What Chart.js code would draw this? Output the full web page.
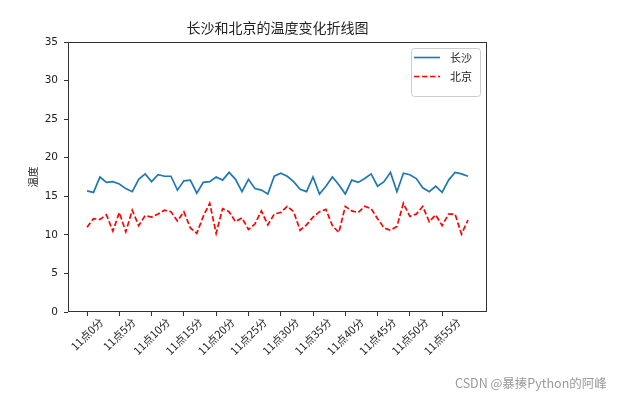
<!DOCTYPE html>
<html>
<head>
<meta charset="utf-8">
<script src="https://cdn.jsdelivr.net/npm/chart.js@4/dist/chart.umd.min.js"></script>
<style>
  body { margin: 0; background: #fff; }
  #wrap { position: relative; width: 621px; height: 399px; }
  #mark { position: absolute; left: 455px; top: 373px; font: 12.5px "Noto Sans CJK SC", sans-serif; color: #9a9a9a; white-space: nowrap; }
</style>
</head>
<body>
<div id="wrap">
  <canvas id="chart" width="621" height="399"></canvas>
  <div id="mark">CSDN @暴揍Python的阿峰</div>
</div>
<script>
var chartTitle = '长沙和北京的温度变化折线图';
var yTitle = '温度';
var seriesNames = ['长沙', '北京'];

var tickPositions = [0, 5, 10, 15, 20, 25, 30, 35, 40, 45, 50, 55];
var tickLabels = ['11点0分', '11点5分', '11点10分', '11点15分', '11点20分', '11点25分',
                  '11点30分', '11点35分', '11点40分', '11点45分', '11点50分', '11点55分'];

var changsha = [15.7, 15.5, 17.5, 16.8, 16.9, 16.6, 16.0, 15.6, 17.2, 17.9,
                16.9, 17.8, 17.6, 17.6, 15.8, 17.0, 17.1, 15.4, 16.8, 16.9,
                17.5, 17.1, 18.1, 17.2, 15.6, 17.2, 16.0, 15.8, 15.3, 17.6,
                18.0, 17.6, 16.9, 15.9, 15.6, 17.5, 15.3, 16.3, 17.5, 16.5,
                15.3, 17.1, 16.8, 17.3, 17.9, 16.3, 16.9, 18.1, 15.6, 18.0,
                17.8, 17.3, 16.1, 15.6, 16.3, 15.5, 17.1, 18.1, 17.9, 17.6];

var beijing = [11.0, 12.1, 12.0, 12.6, 10.5, 12.9, 10.4, 13.2, 11.2, 12.5,
               12.3, 12.7, 13.2, 13.0, 11.8, 13.0, 10.9, 10.2, 12.4, 14.1,
               10.2, 13.4, 13.0, 11.7, 12.2, 10.7, 11.4, 13.1, 11.3, 12.7,
               12.9, 13.7, 13.0, 10.6, 11.3, 12.3, 13.0, 13.3, 11.2, 10.3,
               13.7, 13.1, 12.9, 13.7, 13.4, 12.1, 10.9, 10.6, 11.1, 14.1,
               12.4, 12.7, 13.7, 11.7, 12.6, 11.2, 12.7, 12.7, 10.1, 11.9];

function toPoints(arr) {
  return arr.map(function (v, i) { return { x: i, y: v }; });
}

var cjkFont = '"Noto Sans CJK SC", sans-serif';

var decorations = {
  id: 'decorations',
  afterDraw: function (chart) {
    var ctx = chart.ctx;
    var area = chart.chartArea;
    var xs = chart.scales.x;
    ctx.save();

    // frame
    ctx.strokeStyle = '#333';
    ctx.lineWidth = 1;
    ctx.strokeRect(Math.round(area.left) + 0.5, Math.round(area.top) + 0.5,
                   Math.round(area.right - area.left) - 1, Math.round(area.bottom - area.top) - 1);

    // rotated x labels, centred on the tick like matplotlib, cut off at the figure edge
    ctx.save();
    ctx.beginPath();
    ctx.rect(0, 0, 621, 355);
    ctx.clip();
    ctx.font = '11px ' + cjkFont;
    ctx.fillStyle = '#222';
    ctx.textAlign = 'center';
    ctx.textBaseline = 'middle';
    var h = 11;
    tickPositions.forEach(function (p, i) {
      var w = ctx.measureText(tickLabels[i]).width;
      var side = (w + h) * Math.SQRT1_2;
      var cx = xs.getPixelForValue(p);
      var cy = area.bottom + 4 + side / 2;
      ctx.save();
      ctx.translate(cx, cy);
      ctx.rotate(-Math.PI / 4);
      ctx.fillText(tickLabels[i], 0, 0);
      ctx.restore();
    });
    ctx.restore();

    // title
    ctx.font = '14px ' + cjkFont;
    ctx.fillStyle = '#222';
    ctx.textAlign = 'center';
    ctx.textBaseline = 'middle';
    ctx.fillText(chartTitle, (area.left + area.right) / 2, 28);

    // y title
    ctx.save();
    ctx.font = '10.5px ' + cjkFont;
    ctx.translate(33, (area.top + area.bottom) / 2);
    ctx.rotate(-Math.PI / 2);
    ctx.fillText(yTitle, 0, 0);
    ctx.restore();

    // legend
    var lx = 411, ly = 48, lw = 69, lh = 48;
    ctx.beginPath();
    ctx.roundRect(lx + 0.5, ly + 0.5, lw, lh, 3);
    ctx.fillStyle = 'rgba(255,255,255,0.8)';
    ctx.fill();
    ctx.strokeStyle = '#cccccc';
    ctx.lineWidth = 1;
    ctx.stroke();

    var rows = [
      { y: 57.5, color: '#1f77b4', dash: [] },
      { y: 76.5, color: '#ff0000', dash: [5.5, 2.5] }
    ];
    ctx.font = '11px ' + cjkFont;
    ctx.textAlign = 'left';
    rows.forEach(function (r, i) {
      ctx.beginPath();
      ctx.setLineDash(r.dash);
      ctx.strokeStyle = r.color;
      ctx.lineWidth = 1.6;
      ctx.moveTo(414, r.y);
      ctx.lineTo(440, r.y);
      ctx.stroke();
      ctx.setLineDash([]);
      ctx.fillStyle = '#222';
      ctx.fillText(seriesNames[i], 450, r.y);
    });

    ctx.restore();
  }
};

new Chart(document.getElementById('chart'), {
  type: 'line',
  data: {
    datasets: [{
      label: seriesNames[0],
      data: toPoints(changsha),
      borderColor: '#1f77b4',
      borderWidth: 1.7,
      pointRadius: 0,
      tension: 0
    }, {
      label: seriesNames[1],
      data: toPoints(beijing),
      borderColor: '#ff0000',
      borderWidth: 1.7,
      borderDash: [5.5, 2.5],
      pointRadius: 0,
      tension: 0
    }]
  },
  options: {
    responsive: false,
    animation: false,
    layout: { padding: { left: 0, top: 42, right: 134, bottom: 0 } },
    plugins: {
      legend: { display: false },
      title: { display: false },
      tooltip: { enabled: false }
    },
    scales: {
      x: {
        type: 'linear',
        min: -2.95,
        max: 61.95,
        afterBuildTicks: function (scale) {
          scale.ticks = tickPositions.map(function (v) { return { value: v }; });
        },
        afterFit: function (scale) { scale.height = 87; },
        ticks: { display: false },
        grid: { drawOnChartArea: false, tickLength: 4, color: '#333' },
        border: { display: false }
      },
      y: {
        min: 0,
        max: 35,
        ticks: {
          stepSize: 5,
          padding: 6,
          color: '#222',
          font: { family: '"DejaVu Sans", sans-serif', size: 10.5 }
        },
        afterFit: function (scale) { scale.width = 68; },
        grid: { drawOnChartArea: false, tickLength: 4, color: '#333' },
        border: { display: false }
      }
    }
  },
  plugins: [decorations]
});
</script>
</body>
</html>
